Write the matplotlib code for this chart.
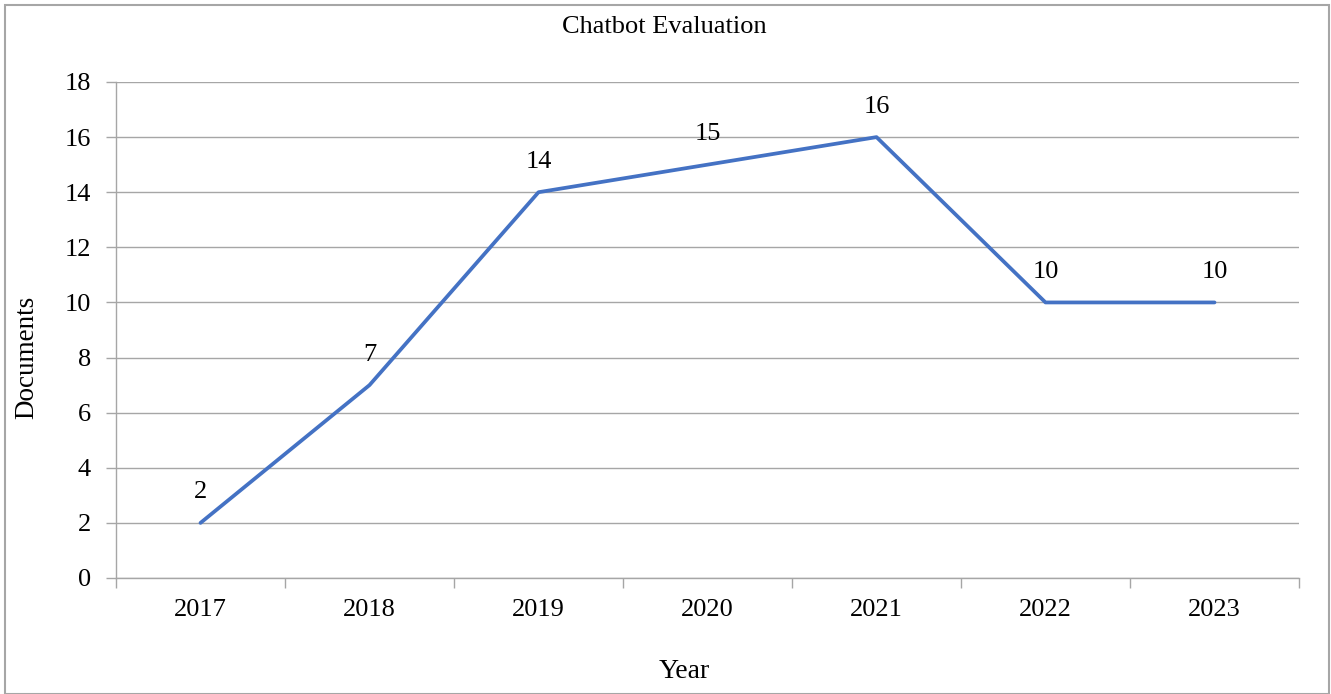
import matplotlib.pyplot as plt
from matplotlib.patches import Rectangle

years = ['2017', '2018', '2019', '2020', '2021', '2022', '2023']
documents = [2, 7, 14, 15, 16, 10, 10]

plt.rcParams['font.family'] = ['Liberation Serif', 'DejaVu Serif']

fig = plt.figure(figsize=(13.31, 6.94), dpi=100)
ax = fig.add_axes([116 / 1331, 1 - 578 / 694, (1299 - 116) / 1331, (578 - 82) / 694])

grid_col = '#a6a6a6'
x = range(len(years))
ax.plot(x, documents, color='#4472c4', linewidth=2.7, solid_capstyle='round', zorder=3)
for i in x:
    ax.annotate(str(documents[i]), (i, documents[i]), xytext=(0, 14), textcoords='offset points',
                ha='center', va='bottom', fontsize=19)

ax.set_xlim(-0.5, len(years) - 0.5)
ax.set_ylim(0, 18)
ax.set_yticks(range(0, 19, 2))
ax.set_xticks(x)
ax.set_xticklabels(years)
ax.set_xticks([i - 0.5 for i in range(len(years) + 1)], minor=True)
ax.tick_params(axis='x', which='major', length=0, labelsize=19, pad=15)
ax.tick_params(axis='x', which='minor', length=7, width=1, color=grid_col)
ax.tick_params(axis='y', length=7, width=1, color=grid_col, labelsize=19, pad=11)
ax.grid(axis='y', color=grid_col, linewidth=1)
ax.set_axisbelow(True)
for s in ['top', 'right']:
    ax.spines[s].set_visible(False)
for s in ['left', 'bottom']:
    ax.spines[s].set_color(grid_col)
    ax.spines[s].set_linewidth(1)

fig.text(664 / 1331, 1 - 27 / 694, 'Chatbot Evaluation', ha='center', va='center', fontsize=19)
fig.text(684 / 1331, 1 - 671 / 694, 'Year', ha='center', va='center', fontsize=20)
fig.text(27 / 1331, 1 - 357 / 694, 'Documents', ha='center', va='center', fontsize=19.5, rotation=90)

fig.patches.append(Rectangle((5 / 1331, 0), 1324 / 1331, 1 - 5 / 694, transform=fig.transFigure,
                             fill=False, edgecolor='#a6a6a6', linewidth=1.5))

fig.savefig('out.png', dpi=100)
